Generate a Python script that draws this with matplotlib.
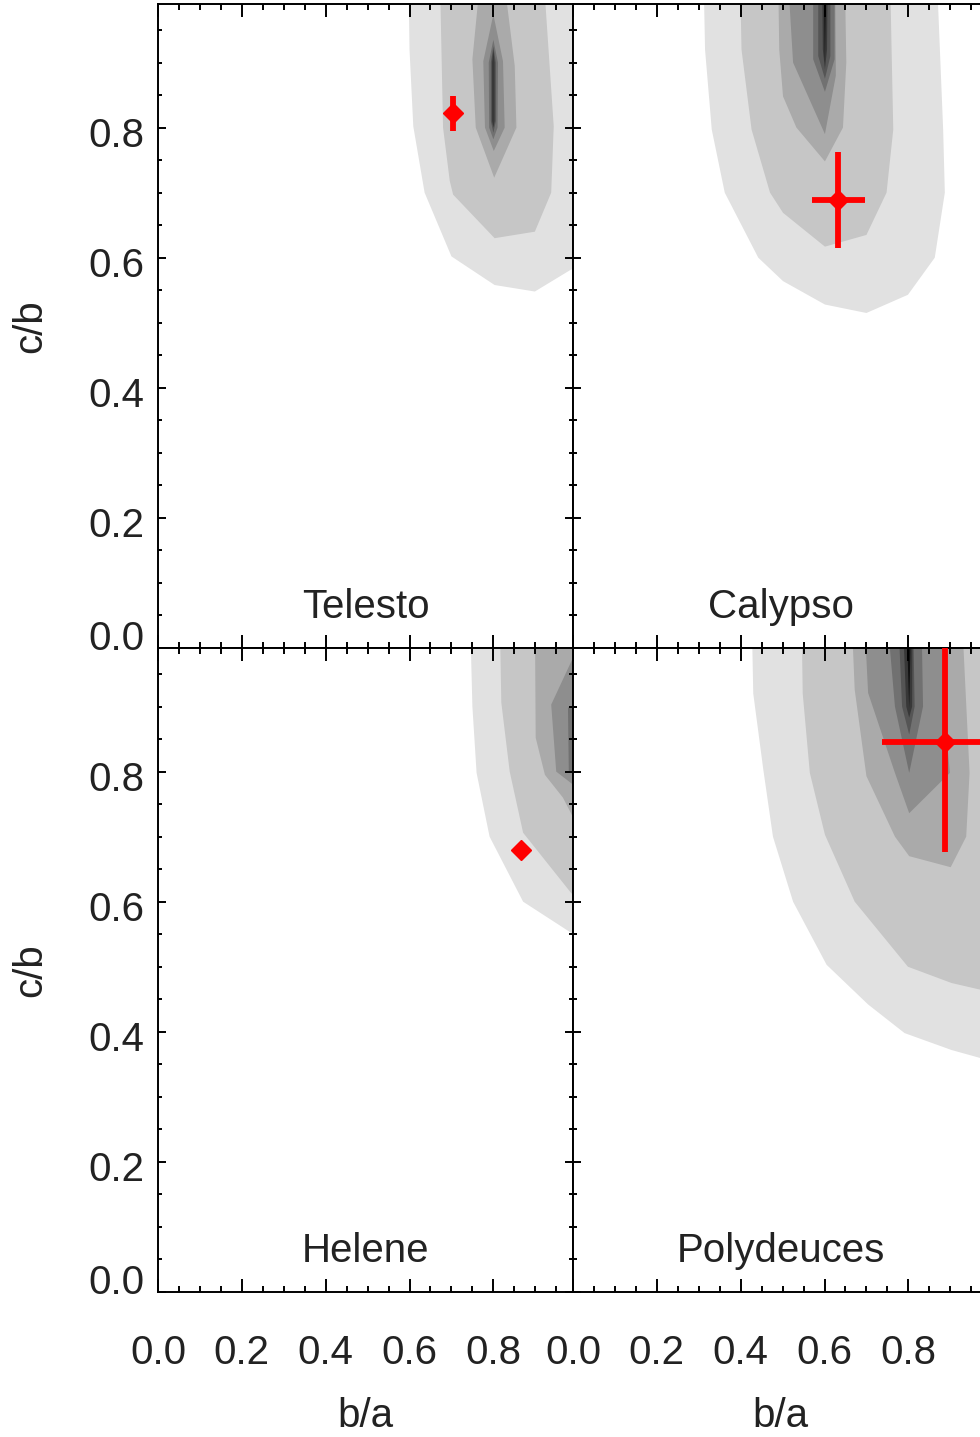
import matplotlib
matplotlib.use("Agg")
import matplotlib.pyplot as plt
from matplotlib.ticker import MultipleLocator
from matplotlib.transforms import ScaledTranslation

plt.rcParams['font.family'] = ['Liberation Sans', 'DejaVu Sans']

# gray fill per confidence level, outermost first
GRAYS = ["#e1e1e1", "#c6c6c6", "#aaaaaa", "#8e8e8e",
         "#717171", "#555555", "#383838", "#111111"]

# contour regions (b/a, c/b), outermost first
TELESTO = [
    [(0.597, 1.05), (0.600, 0.92), (0.609, 0.802), (0.636, 0.700), (0.700, 0.602), (0.803, 0.558),
     (0.899, 0.548), (0.986, 0.582), (1.05, 0.56), (1.05, 1.05)],
    [(0.672, 1.05), (0.680, 0.80), (0.696, 0.718), (0.704, 0.697), (0.803, 0.630), (0.899, 0.640),
     (0.938, 0.700), (0.944, 0.802), (0.918, 1.05)],
    [(0.772, 1.05), (0.750, 0.905), (0.758, 0.800), (0.802, 0.723), (0.855, 0.800), (0.851, 0.895),
     (0.821, 1.05)],
    [(0.800, 0.974), (0.776, 0.902), (0.780, 0.800), (0.801, 0.764), (0.827, 0.800), (0.823, 0.902)],
    [(0.800, 0.935), (0.789, 0.90), (0.790, 0.80), (0.800, 0.782), (0.810, 0.80), (0.811, 0.90)],
    [(0.800, 0.925), (0.794, 0.90), (0.794, 0.81), (0.800, 0.792), (0.806, 0.81), (0.806, 0.90)],
    [(0.800, 0.920), (0.797, 0.90), (0.797, 0.81), (0.800, 0.800), (0.803, 0.81), (0.803, 0.90)],
]
CALYPSO = [
    [(0.311, 1.05), (0.315, 0.920), (0.331, 0.797), (0.362, 0.700), (0.442, 0.600), (0.501, 0.564),
     (0.601, 0.528), (0.700, 0.515), (0.799, 0.543), (0.863, 0.600), (0.887, 0.700), (0.883, 0.797),
     (0.867, 1.05)],
    [(0.398, 1.05), (0.402, 0.920), (0.426, 0.797), (0.470, 0.700), (0.501, 0.669), (0.601, 0.617),
     (0.700, 0.635), (0.748, 0.700), (0.764, 0.797), (0.760, 0.920), (0.756, 1.05)],
    [(0.489, 1.05), (0.492, 0.920), (0.501, 0.848), (0.533, 0.800), (0.601, 0.748), (0.644, 0.800),
     (0.652, 0.900), (0.648, 1.05)],
    [(0.511, 1.05), (0.525, 0.900), (0.601, 0.790), (0.627, 0.880), (0.625, 1.05)],
    [(0.573, 1.05), (0.573, 0.905), (0.601, 0.855), (0.624, 0.905), (0.624, 1.05)],
    [(0.585, 1.05), (0.585, 0.910), (0.601, 0.875), (0.614, 0.910), (0.614, 1.05)],
    [(0.594, 1.05), (0.596, 0.920), (0.601, 0.890), (0.606, 0.920), (0.608, 1.05)],
    [(0.598, 1.05), (0.601, 0.900), (0.604, 1.05)],
]
HELENE = [
    [(0.744, 1.05), (0.750, 0.90), (0.760, 0.798), (0.791, 0.700), (0.871, 0.600), (0.986, 0.552),
     (1.05, 0.52), (1.05, 1.05)],
    [(0.815, 1.05), (0.819, 0.906), (0.839, 0.800), (0.871, 0.706), (0.986, 0.613), (1.05, 0.58),
     (1.05, 1.05)],
    [(0.899, 1.05), (0.901, 0.852), (0.923, 0.795), (0.966, 0.760), (0.990, 0.730), (1.05, 0.70),
     (1.05, 1.05)],
    [(1.05, 0.99), (0.990, 0.975), (0.938, 0.903), (0.950, 0.800), (0.990, 0.780), (1.05, 0.76)],
    [(1.05, 0.92), (0.978, 0.898), (0.980, 0.800), (1.05, 0.78)],
]
POLYDEUCES = [
    [(0.426, 1.05), (0.430, 0.92), (0.454, 0.803), (0.477, 0.700), (0.525, 0.600), (0.605, 0.503),
     (0.704, 0.442), (0.791, 0.398), (0.903, 0.372), (0.970, 0.360), (1.05, 0.35), (1.05, 1.05)],
    [(0.545, 1.05), (0.548, 0.92), (0.565, 0.798), (0.601, 0.703), (0.672, 0.600), (0.799, 0.500),
     (0.903, 0.475), (0.970, 0.465), (1.05, 0.46), (1.05, 1.05)],
    [(0.664, 1.05), (0.672, 0.926), (0.700, 0.793), (0.768, 0.700), (0.802, 0.670), (0.901, 0.653),
     (0.938, 0.700), (0.946, 0.798), (0.927, 1.05)],
    [(0.694, 1.05), (0.704, 0.921), (0.768, 0.798), (0.802, 0.736), (0.899, 0.798), (0.885, 0.90),
     (0.880, 1.05)],
    [(0.748, 1.05), (0.768, 0.90), (0.802, 0.798), (0.835, 0.90), (0.831, 1.05)],
    [(0.775, 1.05), (0.785, 0.90), (0.802, 0.857), (0.815, 0.90), (0.811, 1.05)],
    [(0.786, 1.05), (0.795, 0.90), (0.802, 0.883), (0.809, 0.90), (0.810, 1.05)],
    [(0.795, 1.05), (0.802, 0.898), (0.807, 1.05)],
]

NAMES = ["Telesto", "Calypso", "Helene", "Polydeuces"]
CONTOURS = [TELESTO, CALYPSO, HELENE, POLYDEUCES]
# measured shapes with errors
BA = [0.704, 0.633, 0.867, 0.887]
BA_ERR = [0.015, 0.063, 0.008, 0.151]
CB = [0.822, 0.689, 0.679, 0.846]
CB_ERR = [0.027, 0.074, 0.008, 0.169]

TICKS = [0.0, 0.2, 0.4, 0.6, 0.8]
TICK_LABELS = ["0.0", "0.2", "0.4", "0.6", "0.8"]

TXT = "#222222"
FS = 29

fig = plt.figure(figsize=(9.8, 14.37), dpi=100)
pw, ph = 415 / 980, 644 / 1437
lefts = [158 / 980, 573 / 980]
bottoms = [1 - 648 / 1437, 1 - 1292 / 1437]

for k, (name, levels) in enumerate(zip(NAMES, CONTOURS)):
    row, col = divmod(k, 2)
    ax = fig.add_axes([lefts[col], bottoms[row], pw, ph])
    for poly, c in zip(levels, GRAYS):
        xs, ys = zip(*poly)
        ax.fill(xs, ys, color=c, lw=0, zorder=1)
    ax.errorbar(BA[k], CB[k], xerr=BA_ERR[k], yerr=CB_ERR[k], fmt="D", color="red",
                ms=10.5, elinewidth=4.2, capsize=0, zorder=5)
    ax.text(0.5, 0.046, name, transform=ax.get_yaxis_transform(), ha="center",
            va="baseline", fontsize=FS, color=TXT)

    ax.set_xlim(0, 0.99)
    ax.set_ylim(0, 0.99)
    ax.set_xticks(TICKS)
    ax.set_yticks(TICKS)
    ax.xaxis.set_minor_locator(MultipleLocator(0.05))
    ax.yaxis.set_minor_locator(MultipleLocator(0.05))
    ax.tick_params(which="both", direction="in", top=True, right=True, width=1.4,
                   colors="black", labelcolor=TXT, labelsize=FS)
    ax.tick_params(axis="x", which="major", length=9.3, pad=30)
    ax.tick_params(axis="x", which="minor", length=4.6)
    ax.tick_params(axis="y", which="major", length=6, pad=10)
    ax.tick_params(axis="y", which="minor", length=3)
    for s in ax.spines.values():
        s.set_linewidth(1.4)

    if row == 1:
        ax.set_xticklabels(TICK_LABELS)
        ax.set_xlabel("b/a", fontsize=FS, color=TXT)
        ax.xaxis.set_label_coords(0.5, -0.163)
    else:
        ax.set_xticklabels([])
    if col == 0:
        ax.set_yticklabels(TICK_LABELS)
        ax.set_ylabel("c/b", fontsize=FS, color=TXT)
        ax.yaxis.set_label_coords(-0.262, 0.5)
        for lab in ax.get_yticklabels():
            dy = 0.13 if lab.get_text() == "0.0" else -0.04
            lab.set_transform(lab.get_transform() + ScaledTranslation(0, dy, fig.dpi_scale_trans))
    else:
        ax.set_yticklabels([])

fig.savefig("out.png", dpi=100)
